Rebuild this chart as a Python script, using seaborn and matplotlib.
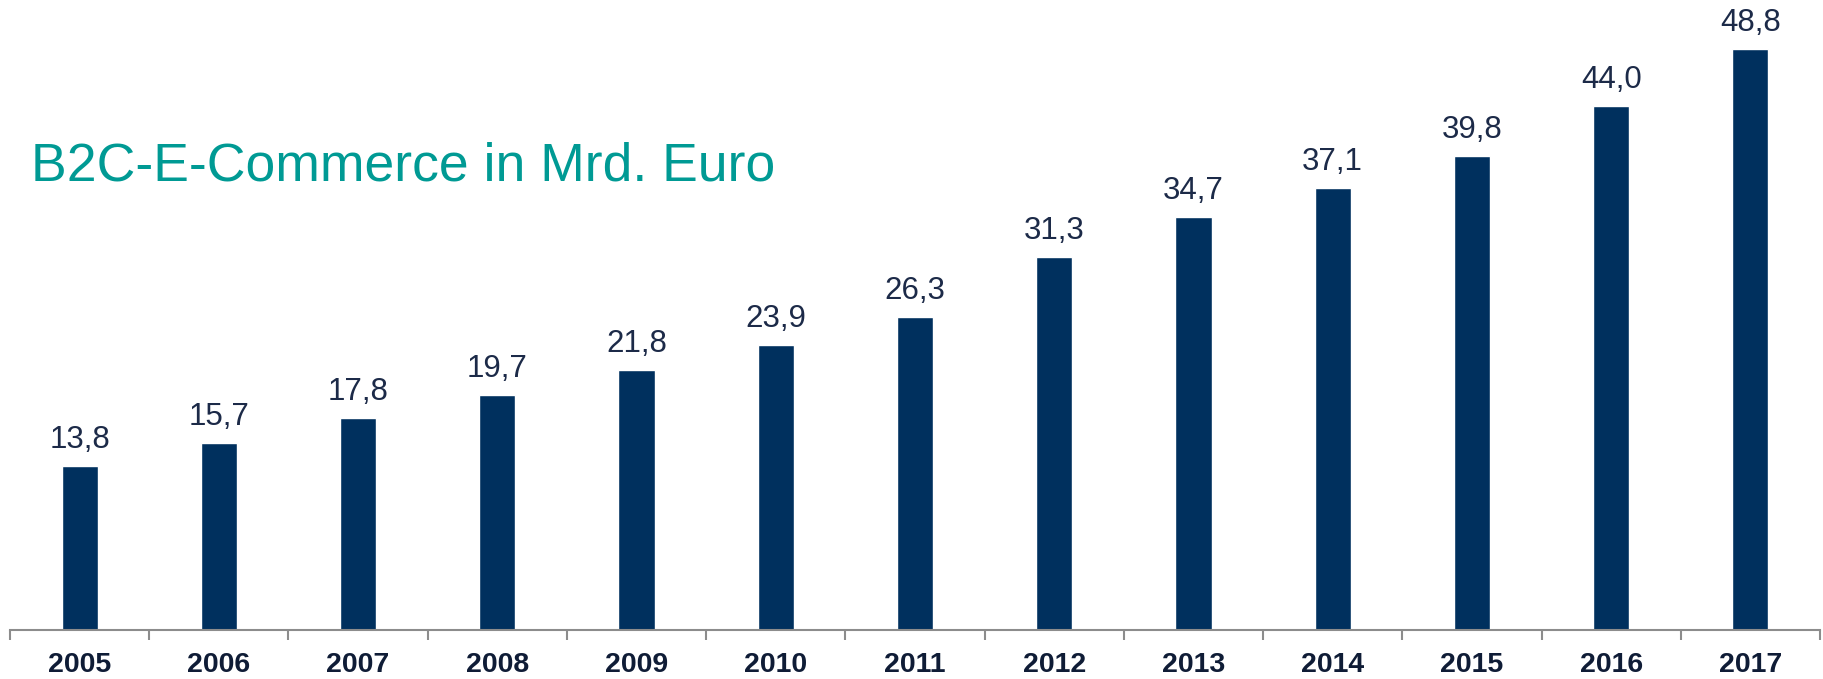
import pandas as pd
import matplotlib
matplotlib.use("Agg")
import matplotlib.pyplot as plt
import seaborn as sns

years = ["2005", "2006", "2007", "2008", "2009", "2010", "2011",
         "2012", "2013", "2014", "2015", "2016", "2017"]
values = [13.8, 15.7, 17.8, 19.7, 21.8, 23.9, 26.3,
          31.3, 34.7, 37.1, 39.8, 44.0, 48.8]
title = "B2C-E-Commerce in Mrd. Euro"

bar_color = "#00305e"
label_color = "#1c2a48"
tick_color = "#0f1c36"
title_color = "#009a94"
axis_color = "#8c8c8c"


def main():
    sns.set_style("white")
    plt.rcParams['font.family'] = ['Liberation Sans', 'DejaVu Sans']

    df = pd.DataFrame({'Year': years, 'Value': values})

    fig = plt.figure(figsize=(18.24, 6.79), dpi=100)
    ax = fig.add_axes([0.0055, 0.0722, 0.9923, 0.9278])

    sns.barplot(data=df, x='Year', y='Value', color=bar_color,
                width=0.26, saturation=1, ax=ax)

    # value labels with german decimal comma
    for i, v in enumerate(values):
        ax.annotate(f"{v:.1f}".replace('.', ','), (i, v),
                    xytext=(0, 8), textcoords='offset points',
                    ha='center', va='bottom', fontsize=22.5, color=label_color)

    ax.set_xlim(-0.5, len(years) - 0.5)
    ax.set_ylim(0, 52.9)
    ax.set_xlabel("")
    ax.set_ylabel("")
    ax.set_yticks([])

    for side in ['top', 'right', 'left']:
        ax.spines[side].set_visible(False)
    ax.spines['bottom'].set_color(axis_color)
    ax.spines['bottom'].set_linewidth(1.5)

    # ticks sit between the categories
    ax.set_xticks([i - 0.5 for i in range(len(years) + 1)], minor=True)
    ax.tick_params(axis='x', which='minor', bottom=True, length=7, width=1.5,
                   color=axis_color, direction='out')
    ax.tick_params(axis='x', which='major', length=0, pad=16,
                   labelsize=20.5, labelcolor=tick_color)
    for lbl in ax.get_xticklabels():
        lbl.set_fontweight('bold')

    fig.text(31 / 1824, 1 - 181 / 679, title, fontsize=38.5,
             color=title_color, va='baseline', ha='left')

    fig.savefig("out.png", dpi=100)


if __name__ == "__main__":
    main()
